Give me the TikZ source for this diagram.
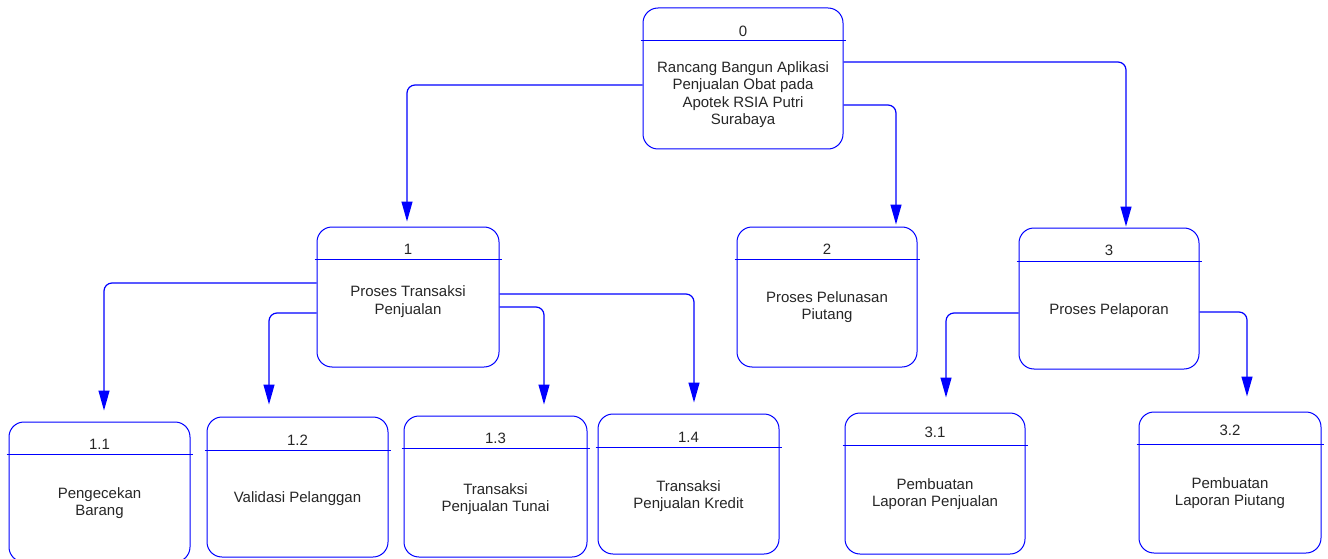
\documentclass[tikz,border=0pt]{standalone}
\usepackage{fontspec}
\setmainfont{Liberation Sans}
\usepackage{xcolor}
\usepackage{tikz}
\usetikzlibrary{arrows.meta}
\usetikzlibrary{positioning}

\begin{document}
\begin{tikzpicture}[x=1pt, y=-1pt,
  % kotak proses dengan sudut membulat
  proc/.style={rectangle, rounded corners=15pt, draw=blue, line width=1pt, inner sep=0pt},
  % garis pemisah nomor proses
  sekat/.style={draw=blue, line width=1pt, shorten <=-2pt, shorten >=-2pt},
  % teks nomor dan nama proses
  nomor/.style={font=\fontsize{15}{17.5}\selectfont, text=black!85, inner sep=0pt},
  nama/.style={font=\fontsize{15}{17.5}\selectfont, text=black!85, align=center, inner sep=0pt},
  % alur antar proses
  alur/.style={draw=blue, line width=1.2pt, rounded corners=8pt, -{Triangle[length=20pt, width=11pt]}}
]
\useasboundingbox (0,0) rectangle (1328,559);

% proses utama
\node[proc, minimum width=200pt, minimum height=141pt] (b0) at (743,78.5) {};
\draw[sekat] (b0.west |- 0,41) -- (b0.east |- 0,41);
\node[nomor] (n0) at (743,31) {0};
\node[nama] (l0) at (743,94.5) {Rancang Bangun Aplikasi\\Penjualan Obat pada\\Apotek RSIA Putri\\Surabaya};

% proses level 1
\node[proc, minimum width=182pt, minimum height=140pt] (b1) at (408,297) {};
\draw[sekat] (b1.west |- 0,259) -- (b1.east |- 0,259);
\node[nomor] (n1) at (408,249) {1};
\node[nama] (l1) at (408,301.5) {Proses Transaksi\\Penjualan};

\node[proc, minimum width=180pt, minimum height=140pt] (b2) at (827,297) {};
\draw[sekat] (b2.west |- 0,259) -- (b2.east |- 0,259);
\node[nomor] (n2) at (827,249) {2};
\node[nama] (l2) at (827,307) {Proses Pelunasan\\Piutang};

\node[proc, minimum width=180pt, minimum height=141pt] (b3) at (1109,298.5) {};
\draw[sekat] (b3.west |- 0,261) -- (b3.east |- 0,261);
\node[nomor] (n3) at (1109,250) {3};
\node[nama] (l3) at (1109,311) {Proses Pelaporan};

% proses level 2
\node[proc, minimum width=181pt, minimum height=140pt] (b11) at (99.5,492) {};
\draw[sekat] (b11.west |- 0,454) -- (b11.east |- 0,454);
\node[nomor] (n11) at (99.5,444) {1.1};
\node[nama] (l11) at (99.5,503) {Pengecekan\\Barang};

\node[proc, minimum width=181pt, minimum height=140pt] (b12) at (297.5,487) {};
\draw[sekat] (b12.west |- 0,450) -- (b12.east |- 0,450);
\node[nomor] (n12) at (297.5,440) {1.2};
\node[nama] (l12) at (297.5,499) {Validasi Pelanggan};

\node[proc, minimum width=183pt, minimum height=141pt] (b13) at (495.5,486.5) {};
\draw[sekat] (b13.west |- 0,448) -- (b13.east |- 0,448);
\node[nomor] (n13) at (495.5,438) {1.3};
\node[nama] (l13) at (495.5,499) {Transaksi\\Penjualan Tunai};

\node[proc, minimum width=181pt, minimum height=140pt] (b14) at (688.5,484) {};
\draw[sekat] (b14.west |- 0,447) -- (b14.east |- 0,447);
\node[nomor] (n14) at (688.5,437) {1.4};
\node[nama] (l14) at (688.5,496) {Transaksi\\Penjualan Kredit};

\node[proc, minimum width=180pt, minimum height=141pt] (b31) at (935,483.5) {};
\draw[sekat] (b31.west |- 0,445) -- (b31.east |- 0,445);
\node[nomor] (n31) at (935,432) {3.1};
\node[nama] (l31) at (935,494) {Pembuatan\\Laporan Penjualan};

\node[proc, minimum width=182pt, minimum height=141pt] (b32) at (1230,482.5) {};
\draw[sekat] (b32.west |- 0,444) -- (b32.east |- 0,444);
\node[nomor] (n32) at (1230,430) {3.2};
\node[nama] (l32) at (1230,493) {Pembuatan\\Laporan Piutang};

% alur dari proses 0
\draw[alur] (b0.west |- 0,85) -| ([yshift=5pt]b1.north -| 407,0);
\draw[alur] (b0.east |- 0,105) -| ([yshift=2pt]b2.north -| 896,0);
\draw[alur] (b0.east |- 0,62) -| ([yshift=1pt]b3.north -| 1126,0);

% alur dari proses 1
\draw[alur] (b1.west |- 0,283) -| ([yshift=11pt]b11.north -| 104,0);
\draw[alur] (b1.west |- 0,313) -| ([yshift=12pt]b12.north -| 269,0);
\draw[alur] (b1.east |- 0,307) -| ([yshift=11pt]b13.north -| 544,0);
\draw[alur] (b1.east |- 0,294) -| ([yshift=11pt]b14.north -| 694,0);

% alur dari proses 3
\draw[alur] (b3.west |- 0,313) -| ([yshift=15pt]b31.north -| 946,0);
\draw[alur] (b3.east |- 0,312) -| ([yshift=15pt]b32.north -| 1247,0);

\end{tikzpicture}
\end{document}
